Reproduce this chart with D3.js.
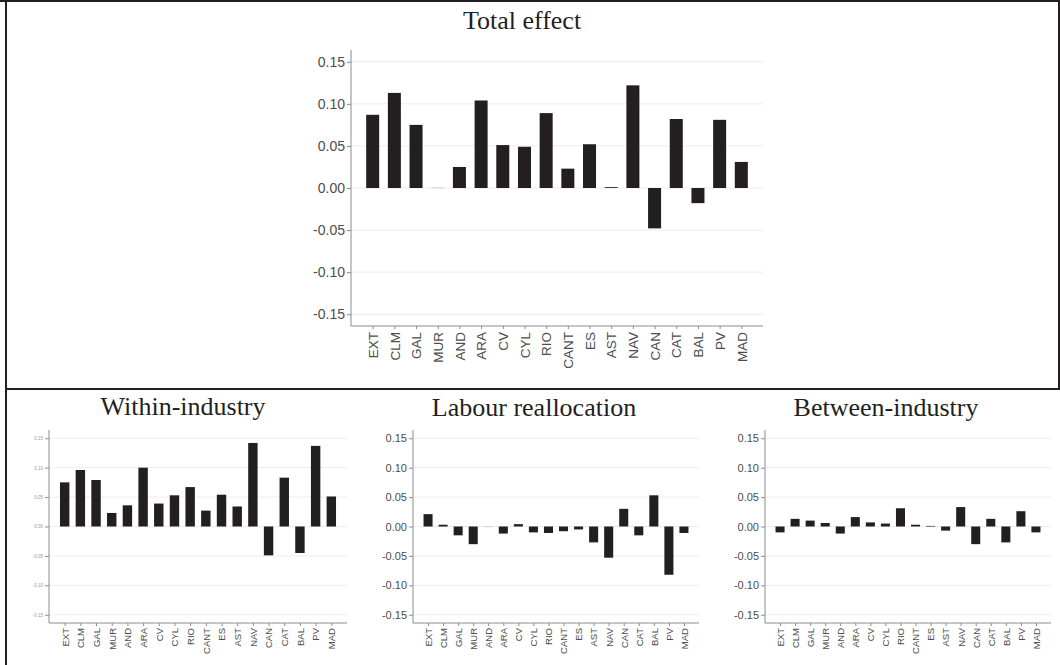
<!DOCTYPE html>
<html>
<head>
<meta charset="utf-8">
<script src="https://cdn.jsdelivr.net/npm/d3@7"></script>
<style>
  body { margin: 0; background: #fff; }
  svg { display: block; }
</style>
</head>
<body>
<svg id="chart" width="1060" height="665"></svg>
<script>
// regions (same order in every panel)
const regions = ["EXT", "CLM", "GAL", "MUR", "AND", "ARA", "CV", "CYL", "RIO", "CANT", "ES", "AST", "NAV", "CAN", "CAT", "BAL", "PV", "MAD"];

const totalEffect = [0.087, 0.113, 0.075, 0.0005, 0.025, 0.104, 0.051, 0.049, 0.089, 0.023, 0.052, 0.001, 0.122, -0.048, 0.082, -0.018, 0.081, 0.031];
const withinIndustry = [0.075, 0.096, 0.079, 0.023, 0.036, 0.100, 0.039, 0.053, 0.067, 0.027, 0.054, 0.034, 0.142, -0.049, 0.083, -0.045, 0.137, 0.051];
const labourRealloc = [0.021, 0.003, -0.015, -0.030, -0.0005, -0.012, 0.004, -0.010, -0.011, -0.008, -0.005, -0.027, -0.053, 0.030, -0.015, 0.053, -0.082, -0.011];
const betweenIndustry = [-0.010, 0.013, 0.010, 0.006, -0.012, 0.016, 0.007, 0.005, 0.031, 0.003, 0.001, -0.007, 0.033, -0.030, 0.013, -0.027, 0.026, -0.010];

const yTicks = [0.15, 0.10, 0.05, 0.00, -0.05, -0.10, -0.15];

const svg = d3.select("#chart");
// plain hyphen for negatives, like the original
const fmt = (v) => d3.format(".2f")(v).replace("\u2212", "-");

function drawPanel(cfg) {
  const g = svg.append("g");

  const x = d3.scalePoint().domain(regions).range([cfg.x0, cfg.x1]).padding(1);
  const y = d3.scaleLinear().domain([-0.164, 0.164]).range([cfg.y1, cfg.y0]);
  const bw = x.step() * 0.6;

  // light grid
  g.selectAll(".grid")
    .data(yTicks)
    .enter()
    .append("line")
    .attr("x1", cfg.x0)
    .attr("x2", cfg.x1)
    .attr("y1", (d) => y(d))
    .attr("y2", (d) => y(d))
    .attr("stroke", "#ececec")
    .attr("stroke-width", 1);

  // bars
  g.selectAll(".bar")
    .data(cfg.values)
    .enter()
    .append("rect")
    .attr("x", (d, i) => x(regions[i]) - bw / 2)
    .attr("width", bw)
    .attr("y", (d) => y(Math.max(0, d)))
    .attr("height", (d) => Math.max(0.6, Math.abs(y(d) - y(0))))
    .attr("fill", (d) => (Math.abs(d) < 0.001 ? "#bbb" : "#231f20"));

  // y axis
  const ya = g.append("g")
    .attr("transform", "translate(" + cfg.x0 + ",0)")
    .call(d3.axisLeft(y).tickValues(yTicks).tickFormat(fmt).tickSizeOuter(0).tickSize(4).tickPadding(2));
  ya.select(".domain").remove();
  ya.selectAll(".tick line").attr("stroke", "#8c8c8c");
  ya.selectAll("text")
    .attr("fill", cfg.yColor)
    .style("font-family", "Liberation Sans, Arial, sans-serif")
    .style("font-size", cfg.yFont + "px");

  // x axis
  const xa = g.append("g")
    .attr("transform", "translate(0," + cfg.y1 + ")")
    .call(d3.axisBottom(x).tickSizeOuter(0).tickSize(3));
  xa.select(".domain").remove();
  xa.selectAll(".tick line").attr("stroke", "#8c8c8c");
  xa.selectAll("text")
    .attr("transform", "rotate(-90)")
    .attr("x", -cfg.xGap)
    .attr("y", 0)
    .attr("dy", "0.35em")
    .attr("text-anchor", "end")
    .attr("fill", "#4d4d4d")
    .style("font-family", "Liberation Sans, Arial, sans-serif")
    .style("font-size", cfg.xFont + "px");

  // axis lines (L shape)
  g.append("path")
    .attr("d", "M" + cfg.x0 + "," + cfg.y0 + "V" + cfg.y1 + "H" + cfg.x1)
    .attr("fill", "none")
    .attr("stroke", "#8c8c8c")
    .attr("stroke-width", 1);

  // title
  svg.append("text")
    .attr("x", cfg.tx)
    .attr("y", cfg.ty)
    .attr("text-anchor", "middle")
    .style("font-family", "Liberation Serif, Times New Roman, serif")
    .style("font-size", "26px")
    .attr("fill", "#231f20")
    .text(cfg.title);
}

drawPanel({ title: "Total effect", values: totalEffect, x0: 351, x1: 763, y0: 50, y1: 326, yFont: 14, xFont: 13.5, xGap: 6, yColor: "#4d4d4d", tx: 522, ty: 29 });
drawPanel({ title: "Within-industry", values: withinIndustry, x0: 49, x1: 347, y0: 430, y1: 623, yFont: 4.5, xFont: 9.5, xGap: 5, yColor: "#999", tx: 183, ty: 415 });
drawPanel({ title: "Labour reallocation", values: labourRealloc, x0: 413, x1: 699, y0: 430, y1: 623, yFont: 11, xFont: 9.5, xGap: 5, yColor: "#4d4d4d", tx: 534, ty: 416 });
drawPanel({ title: "Between-industry", values: betweenIndustry, x0: 765, x1: 1051, y0: 430, y1: 623, yFont: 11, xFont: 9.5, xGap: 5, yColor: "#4d4d4d", tx: 886, ty: 416 });

// frame of the figure
const frame = svg.append("g").attr("stroke", "#231f20").attr("stroke-width", 2);
frame.append("line").attr("x1", 0).attr("x2", 1060).attr("y1", 1).attr("y2", 1);
frame.append("line").attr("x1", 6).attr("x2", 6).attr("y1", 0).attr("y2", 665);
frame.append("line").attr("x1", 1059).attr("x2", 1059).attr("y1", 0).attr("y2", 389);
frame.append("line").attr("x1", 6).attr("x2", 1060).attr("y1", 389).attr("y2", 389);
</script>
</body>
</html>
